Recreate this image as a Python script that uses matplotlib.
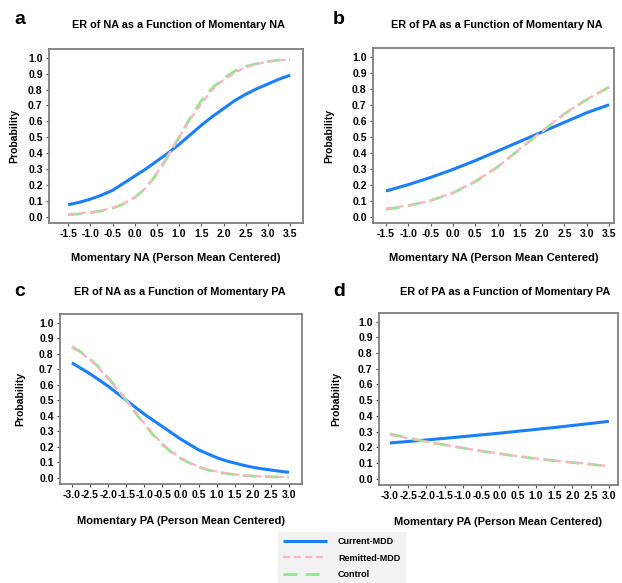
import matplotlib
matplotlib.use("Agg")
import matplotlib.pyplot as plt
import numpy as np

plt.rcParams['font.family'] = ['Liberation Sans', 'DejaVu Sans']
plt.rcParams['font.weight'] = 'bold'

groups = ["Current-MDD", "Remitted-MDD", "Control"]

# Panel a: ER of NA vs momentary NA
xa = [-1.5, -1.25, -1.0, -0.75, -0.5, -0.25, 0.0, 0.25, 0.5, 0.75, 1.0,
      1.25, 1.5, 1.75, 2.0, 2.25, 2.5, 2.75, 3.0, 3.25, 3.5]
a_current = [0.075, 0.09, 0.11, 0.135, 0.165, 0.21, 0.255, 0.30, 0.35, 0.40, 0.455,
             0.515, 0.575, 0.63, 0.68, 0.73, 0.77, 0.805, 0.835, 0.865, 0.89]
a_remitted = [0.015, 0.02, 0.027, 0.038, 0.055, 0.082, 0.122, 0.18, 0.275, 0.385, 0.50,
              0.615, 0.71, 0.80, 0.86, 0.905, 0.94, 0.96, 0.975, 0.984, 0.99]
a_control = [0.012, 0.017, 0.025, 0.036, 0.052, 0.08, 0.12, 0.18, 0.27, 0.38, 0.50,
             0.62, 0.73, 0.81, 0.87, 0.915, 0.945, 0.963, 0.977, 0.985, 0.99]

# Panel b: ER of PA vs momentary NA
xb = [-1.5, -1.0, -0.5, 0.0, 0.5, 1.0, 1.5, 2.0, 2.5, 3.0, 3.5]
b_current = [0.16, 0.20, 0.245, 0.295, 0.35, 0.41, 0.47, 0.53, 0.59, 0.65, 0.70]
b_remitted = [0.05, 0.07, 0.10, 0.15, 0.22, 0.31, 0.425, 0.535, 0.645, 0.735, 0.81]
b_control = [0.045, 0.068, 0.10, 0.148, 0.218, 0.31, 0.423, 0.533, 0.643, 0.733, 0.81]

# Panel c: ER of NA vs momentary PA
xc = [-3.0, -2.75, -2.5, -2.25, -2.0, -1.75, -1.5, -1.25, -1.0, -0.75, -0.5, -0.25, 0.0,
      0.25, 0.5, 0.75, 1.0, 1.25, 1.5, 1.75, 2.0, 2.25, 2.5, 2.75, 3.0]
c_current = [0.74, 0.705, 0.67, 0.63, 0.59, 0.545, 0.50, 0.455, 0.41, 0.37, 0.33, 0.29, 0.25,
             0.215, 0.18, 0.155, 0.13, 0.11, 0.095, 0.08, 0.068, 0.058, 0.05, 0.042, 0.035]
c_remitted = [0.84, 0.805, 0.76, 0.705, 0.64, 0.57, 0.50, 0.425, 0.35, 0.28, 0.22, 0.17, 0.13,
              0.098, 0.072, 0.053, 0.04, 0.03, 0.022, 0.016, 0.012, 0.009, 0.007, 0.005, 0.004]
c_control = [0.845, 0.81, 0.765, 0.71, 0.645, 0.575, 0.50, 0.42, 0.345, 0.275, 0.215, 0.165, 0.125,
             0.095, 0.07, 0.05, 0.038, 0.028, 0.02, 0.015, 0.011, 0.008, 0.006, 0.005, 0.004]

# Panel d: ER of PA vs momentary PA
xd = [-3.0, -2.5, -2.0, -1.5, -1.0, -0.5, 0.0, 0.5, 1.0, 1.5, 2.0, 2.5, 3.0]
d_current = [0.228, 0.237, 0.247, 0.257, 0.268, 0.279, 0.29, 0.302, 0.314, 0.326, 0.339, 0.352, 0.365]
d_remitted = [0.28, 0.258, 0.237, 0.216, 0.196, 0.177, 0.16, 0.144, 0.129, 0.116, 0.104, 0.093, 0.08]
d_control = [0.285, 0.26, 0.235, 0.215, 0.195, 0.176, 0.159, 0.143, 0.128, 0.115, 0.103, 0.092, 0.078]

ticks_na = [-1.5, -1.0, -0.5, 0.0, 0.5, 1.0, 1.5, 2.0, 2.5, 3.0, 3.5]
ticks_pa = [-3.0, -2.5, -2.0, -1.5, -1.0, -0.5, 0.0, 0.5, 1.0, 1.5, 2.0, 2.5, 3.0]
yticks = [0.0, 0.1, 0.2, 0.3, 0.4, 0.5, 0.6, 0.7, 0.8, 0.9, 1.0]

titles = ["ER of NA as a Function of Momentary NA",
          "ER of PA as a Function of Momentary NA",
          "ER of NA as a Function of Momentary PA",
          "ER of PA as a Function of Momentary PA"]
xlabels = ["Momentary NA (Person Mean Centered)",
           "Momentary NA (Person Mean Centered)",
           "Momentary PA (Person Mean Centered)",
           "Momentary PA (Person Mean Centered)"]
letters = ["a", "b", "c", "d"]

W, H = 622, 583
fig = plt.figure(figsize=(W / 100, H / 100), dpi=100)

def px_axes(l, t, r, b):
    return fig.add_axes([l / W, 1 - b / H, (r - l) / W, (b - t) / H])

boxes = [(49, 49, 303, 223), (373, 48, 614, 223), (60, 314, 302, 484), (379, 313, 618, 485)]
xlims = [(-1.93, 3.79), (-1.79, 3.61), (-3.33, 3.36), (-3.3, 3.25)]
data = [(xa, a_current, a_remitted, a_control, ticks_na),
        (xb, b_current, b_remitted, b_control, ticks_na),
        (xc, c_current, c_remitted, c_control, ticks_pa),
        (xd, d_current, d_remitted, d_control, ticks_pa)]
title_pos = [(178, 25), (497, 25), (180, 292), (505, 292)]
xlabel_y = [258, 258, 521, 522]
ylabel_x = [19, 334, 25, 341]
letter_pos = [(14, 20), (333, 20), (14, 292), (333, 292)]

blue = '#1a7fff'
pink = '#ffb3c1'
green = '#8fe88f'

handles = None
for i in range(4):
    ax = px_axes(*boxes[i])
    x, cur, rem, con, xt = data[i]
    h1, = ax.plot(x, cur, color=blue, lw=2.2, solid_capstyle='butt')
    h2, = ax.plot(x, rem, color=pink, lw=1.6, ls=(0, (3, 2)))
    h3, = ax.plot(x, con, color=green, lw=2.0, ls=(0, (5, 3)))
    h2.set_zorder(3)
    handles = (h1, h2, h3)
    ax.set_xlim(*xlims[i])
    ax.set_ylim(-0.04, 1.055)
    ax.set_xticks(xt)
    ax.set_xticklabels([f"{v:.1f}" for v in xt])
    ax.set_yticks(yticks)
    ax.set_yticklabels([f"{v:.1f}" for v in yticks])
    ax.tick_params(labelsize=7.5, length=2.5, width=0.8, color='#555555', pad=2)
    for lab in ax.get_xticklabels() + ax.get_yticklabels():
        lab.set_fontweight('bold')
    for s in ax.spines.values():
        s.set_color('#7f7f7f')
        s.set_linewidth(1.3)
    ax.set_ylabel("Probability", fontsize=7.5, fontweight='bold')
    ax.yaxis.set_label_coords((ylabel_x[i] - boxes[i][0]) / (boxes[i][2] - boxes[i][0]), 0.5)
    b = boxes[i]
    fig.text(title_pos[i][0] / W, 1 - title_pos[i][1] / H, titles[i], ha='center', va='center',
             fontsize=7.8, fontweight='bold')
    fig.text((b[0] + b[2]) / 2 / W, 1 - xlabel_y[i] / H, xlabels[i], ha='center', va='center',
             fontsize=8, fontweight='bold')
    fig.text(letter_pos[i][0] / W, 1 - letter_pos[i][1] / H, letters[i], ha='left', va='center',
             fontsize=14, fontweight='bold')

leg = fig.legend(handles, groups, loc='upper left', bbox_to_anchor=(278 / W, 1 - 532 / H),
                 frameon=True, fancybox=False, handlelength=4.9, borderaxespad=0,
                 handletextpad=1.2, borderpad=0.55, labelspacing=0.85,
                 prop={'weight': 'bold', 'size': 6.5})
leg.get_frame().set_facecolor('#efefef')
leg.get_frame().set_edgecolor('#efefef')

fig.savefig("out.png", dpi=100)
